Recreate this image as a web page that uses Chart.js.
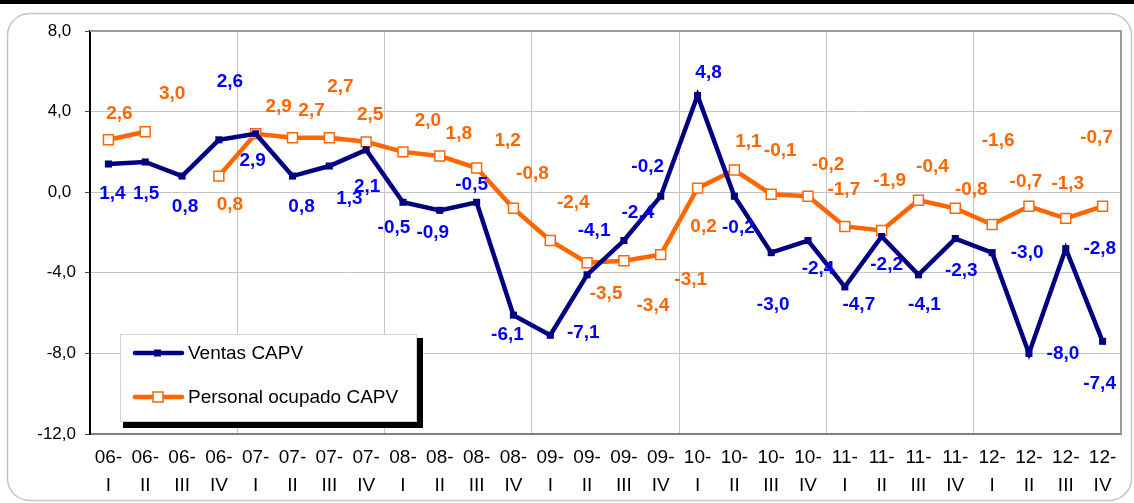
<!DOCTYPE html>
<html>
<head>
<meta charset="utf-8">
<script src="https://cdn.jsdelivr.net/npm/chart.js@4.4.1/dist/chart.umd.min.js"></script>
<style>
  html, body { margin: 0; padding: 0; background: #fff; }
  #wrap { width: 1134px; height: 503px; }
</style>
</head>
<body>
<div id="wrap"><canvas id="chart" width="1134" height="503"></canvas></div>
<script>
const years = ['06', '07', '08', '09', '10', '11', '12'];
const quarters = ['I', 'II', 'III', 'IV'];

const ventas = [1.4, 1.5, 0.8, 2.6, 2.9, 0.8, 1.3, 2.1, -0.5, -0.9, -0.5, -6.1, -7.1, -4.1,
  -2.4, -0.2, 4.8, -0.2, -3.0, -2.4, -4.7, -2.2, -4.1, -2.3, -3.0, -8.0, -2.8, -7.4];
const personal = [2.6, 3.0, null, 0.8, 2.9, 2.7, 2.7, 2.5, 2.0, 1.8, 1.2, -0.8, -2.4, -3.5,
  -3.4, -3.1, 0.2, 1.1, -0.1, -0.2, -1.7, -1.9, -0.4, -0.8, -1.6, -0.7, -1.3, -0.7];

const yMin = -12;
const yMax = 8;
const yStep = 4;

// two-line tick labels: "06-" / "I"
const categories = years.flatMap(y => quarters.map(q => [y + '-', q]));

const FONT = '"Liberation Sans", Arial, sans-serif';

// where each value label sits, relative to its point (px)
const ventasLabelOffsets = [[4, 30], [1, 32], [3, 31], [11, -58], [-3, 27], [9, 31], [20, 33], [1, 37],
  [-9, 25], [-7, 22], [-5, -18], [-6, 20], [33, -2], [7, -44], [14, -28], [-13, -29], [11, -23],
  [4, 32], [2, 52], [10, 28], [14, 18], [5, 28], [6, 30], [6, 32], [35, 0], [34, 0], [34, 0], [-3, 42]];
const personalLabelOffsets = [[11, -26], [27, -38], null, [11, 29], [23, -27], [19, -27], [11, -51],
  [4, -27], [25, -31], [19, -22], [31, -27], [19, -35], [23, -38], [19, 31], [29, 45], [30, 25],
  [6, 39], [14, -28], [9, -43], [20, -31], [-1, -37], [8, -50], [14, -33], [16, -19], [6, -84],
  [-3, -25], [2, -35], [-6, -69]];
const labelOffsets = [ventasLabelOffsets, personalLabelOffsets];
const labelColors = ['#0000ff', '#ff6600'];

function fmt(v) {
  return v.toFixed(1).replace('.', ',');
}

// white page, black strip on top, rounded grey frame
const framePlugin = {
  id: 'frame',
  beforeDraw(chart) {
    const ctx = chart.ctx;
    ctx.save();
    ctx.fillStyle = '#fff';
    ctx.fillRect(0, 0, chart.width, chart.height);
    ctx.fillStyle = '#000';
    ctx.fillRect(0, 0, chart.width, 4);
    ctx.strokeStyle = '#c4c4c4';
    ctx.lineWidth = 1.5;
    ctx.beginPath();
    ctx.roundRect(7.5, 13.5, 1124, 487, 22);
    ctx.stroke();
    ctx.restore();
  }
};

// grey top / right edge of the plot area
const plotBorderPlugin = {
  id: 'plotBorder',
  beforeDatasetsDraw(chart) {
    const { ctx, chartArea } = chart;
    ctx.save();
    ctx.strokeStyle = '#9a9a9a';
    ctx.lineWidth = 2;
    ctx.beginPath();
    ctx.moveTo(chartArea.left, chartArea.top);
    ctx.lineTo(chartArea.right, chartArea.top);
    ctx.lineTo(chartArea.right, chartArea.bottom);
    ctx.stroke();
    ctx.restore();
  }
};

const valueLabelPlugin = {
  id: 'valueLabels',
  afterDatasetsDraw(chart) {
    const ctx = chart.ctx;
    ctx.save();
    ctx.font = 'bold 19px ' + FONT;
    ctx.textAlign = 'center';
    ctx.textBaseline = 'middle';
    chart.data.datasets.forEach((ds, di) => {
      const meta = chart.getDatasetMeta(di);
      ctx.fillStyle = labelColors[di];
      ds.data.forEach((v, i) => {
        if (v === null) return;
        const pt = meta.data[i];
        const off = labelOffsets[di][i] || [0, -20];
        ctx.fillText(fmt(v), pt.x + off[0], pt.y + off[1]);
      });
    });
    ctx.restore();
  }
};

// legend box with black drop shadow, lower left of the plot
const legendBoxPlugin = {
  id: 'legendBox',
  afterDraw(chart) {
    const ctx = chart.ctx;
    ctx.save();
    ctx.fillStyle = '#000';
    ctx.fillRect(123, 338, 300, 90);
    ctx.fillStyle = '#fff';
    ctx.fillRect(120, 334, 297, 88);
    ctx.strokeStyle = '#d4d4d4';
    ctx.lineWidth = 1;
    ctx.strokeRect(120.5, 334.5, 296, 87);

    const rows = [353, 397];
    chart.data.datasets.forEach((ds, di) => {
      const y = rows[di];
      ctx.strokeStyle = ds.borderColor;
      ctx.lineWidth = 4.5;
      ctx.lineCap = 'round';
      ctx.beginPath();
      ctx.moveTo(135, y);
      ctx.lineTo(182, y);
      ctx.stroke();
      if (di === 0) {
        ctx.fillStyle = ds.pointBackgroundColor;
        ctx.fillRect(154, y - 3.5, 7, 7);
      } else {
        ctx.fillStyle = '#fff';
        ctx.fillRect(153, y - 5, 10, 10);
        ctx.strokeStyle = ds.pointBorderColor;
        ctx.lineWidth = 1.5;
        ctx.strokeRect(153, y - 5, 10, 10);
      }
      ctx.fillStyle = '#000';
      ctx.font = '19px ' + FONT;
      ctx.textAlign = 'left';
      ctx.textBaseline = 'middle';
      ctx.fillText(ds.label, 188, y + 1);
    });
    ctx.restore();
  }
};

const ctx = document.getElementById('chart');
new Chart(ctx, {
  type: 'line',
  data: {
    labels: categories,
    datasets: [
      {
        label: 'Ventas CAPV',
        data: ventas,
        borderColor: '#000080',
        backgroundColor: '#000080',
        borderWidth: 4.5,
        tension: 0,
        pointStyle: 'rect',
        pointRadius: 5,
        pointBackgroundColor: '#000080',
        pointBorderColor: '#000080',
        pointBorderWidth: 0
      },
      {
        label: 'Personal ocupado CAPV',
        data: personal,
        borderColor: '#ff6600',
        backgroundColor: '#ff6600',
        borderWidth: 4.5,
        tension: 0,
        pointStyle: 'rect',
        pointRadius: 7,
        pointBackgroundColor: '#ffffff',
        pointBorderColor: '#ff6600',
        pointBorderWidth: 1.5
      }
    ]
  },
  options: {
    responsive: false,
    animation: false,
    devicePixelRatio: 1,
    layout: {
      autoPadding: false,
      padding: { left: 0, top: 31, right: 13, bottom: 0 }
    },
    plugins: {
      legend: { display: false },
      tooltip: { enabled: false }
    },
    scales: {
      x: {
        offset: true,
        grid: {
          offset: true,
          drawTicks: false,
          lineWidth: 1,
          color: c => (c.index % 4 === 0 && c.index > 0 && c.index < categories.length) ? '#c4c4c4' : 'rgba(0,0,0,0)'
        },
        border: { color: '#808080', width: 2 },
        ticks: {
          color: '#000',
          font: { family: FONT, size: 19, lineHeight: 1.45 },
          padding: 10,
          maxRotation: 0,
          autoSkip: false
        },
        afterFit(scale) { scale.height = 69; }
      },
      y: {
        min: yMin,
        max: yMax,
        ticks: {
          stepSize: yStep,
          color: '#000',
          font: { family: FONT, size: 17 },
          padding: 9,
          callback: v => v >= 0 ? fmt(v) + ' ' : fmt(v)
        },
        grid: { color: '#c4c4c4', tickLength: 5, tickColor: '#444' },
        border: { color: '#000', width: 2 },
        afterFit(scale) { scale.width = 90; }
      }
    }
  },
  plugins: [framePlugin, plotBorderPlugin, valueLabelPlugin, legendBoxPlugin]
});
</script>
</body>
</html>
